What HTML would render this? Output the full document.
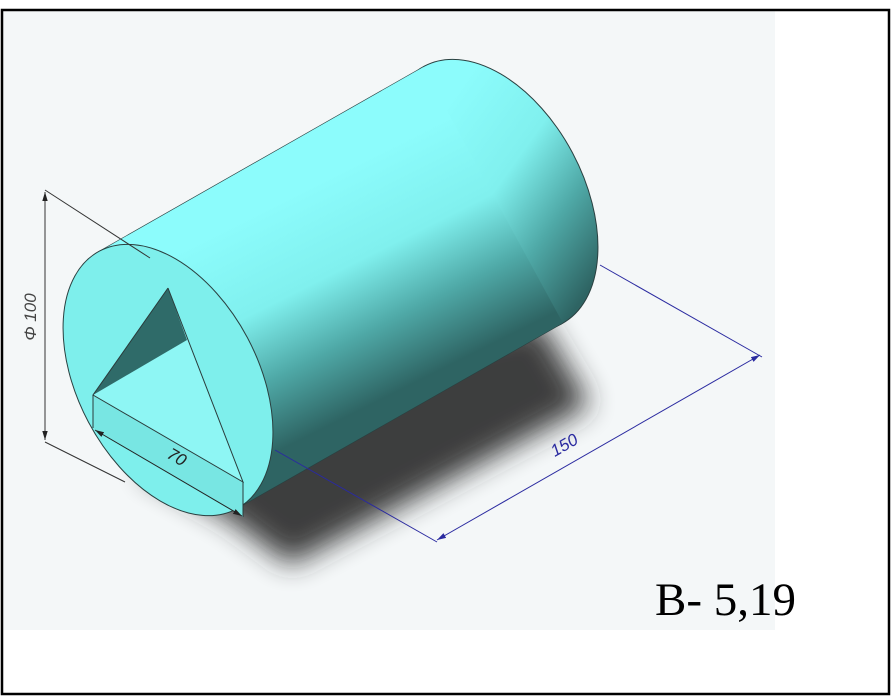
<!DOCTYPE html>
<html><head><meta charset="utf-8"><style>
html,body{margin:0;padding:0;background:#fff;width:891px;height:696px;overflow:hidden}
svg{display:block}
</style></head><body>
<svg width="891" height="696" viewBox="0 0 891 696" xmlns="http://www.w3.org/2000/svg">
<defs>
<linearGradient id="body" gradientUnits="userSpaceOnUse" x1="320" y1="180" x2="420" y2="380">
<stop offset="0" stop-color="#8cfcfc"/><stop offset="0.4" stop-color="#80f0ee"/><stop offset="0.7" stop-color="#4fa9a7"/><stop offset="1" stop-color="#2e6463"/>
</linearGradient>
<filter id="blur" x="-30%" y="-30%" width="160%" height="160%"><feGaussianBlur stdDeviation="14"/></filter>
<marker id="arK" viewBox="0 0 10 10" refX="10" refY="5" markerWidth="9" markerHeight="9" orient="auto-start-reverse"><path d="M0,2 L10,5 L0,8 z" fill="#222"/></marker>
<marker id="arB" viewBox="0 0 10 10" refX="10" refY="5" markerWidth="9" markerHeight="9" orient="auto-start-reverse"><path d="M0,2 L10,5 L0,8 z" fill="#2a2aa0"/></marker>
</defs>
<rect x="0" y="0" width="891" height="696" fill="#fff"/>
<rect x="3" y="11" width="772" height="619" fill="#f4f7f8"/>
<polygon points="140,470 230,520 290,565 590,405 540,320 350,360" fill="#2a2a2a" opacity="0.9" filter="url(#blur)"/>
<g id="cyl"></g>
<g>
<polygon points="168,288 93,395 243,482" fill="#8ef6f4"/>
<polygon points="168,288 93,395 187,340" fill="#2f6b69"/>
<polygon points="93,395 243,482 243,517 93,428" fill="#78e6e3"/>
<polyline points="168,288 93,395 243,482 168,288" fill="none" stroke="#2a3b3b" stroke-width="1"/>
<line x1="93" y1="395" x2="93" y2="428" stroke="#2a3b3b" stroke-width="1"/>
<line x1="243" y1="482" x2="243" y2="517" stroke="#2a3b3b" stroke-width="1"/>
</g>
<g stroke="#333" stroke-width="1" fill="none">
<line x1="45" y1="192" x2="45" y2="440" marker-start="url(#arK)" marker-end="url(#arK)"/>
<line x1="45" y1="190" x2="150" y2="258"/>
<line x1="45" y1="442" x2="125" y2="482"/>
</g>
<text x="0" y="0" transform="translate(36,317) rotate(-90)" text-anchor="middle" font-family="Liberation Sans, sans-serif" font-style="italic" font-size="17" fill="#444">Φ 100</text>
<g>
<line x1="95" y1="430" x2="242" y2="516" stroke="#222" stroke-width="1" marker-start="url(#arK)" marker-end="url(#arK)"/>
</g>
<text transform="translate(174,462) rotate(30)" text-anchor="middle" font-family="Liberation Sans, sans-serif" font-style="italic" font-size="17" fill="#222">70</text>
<g stroke="#2a2aa0" stroke-width="1" fill="none">
<line x1="275" y1="450" x2="437" y2="542"/>
<line x1="600" y1="265" x2="762" y2="357"/>
<line x1="437" y1="540" x2="760" y2="355" marker-start="url(#arB)" marker-end="url(#arB)"/>
</g>
<text transform="translate(567,450) rotate(-30)" text-anchor="middle" font-family="Liberation Sans, sans-serif" font-style="italic" font-size="17" fill="#2a2aa0">150</text>
<text x="655" y="615" font-family="Liberation Serif, serif" font-size="47" fill="#000">B- 5,19</text>
<rect x="2" y="10" width="887" height="684" fill="none" stroke="#000" stroke-width="2.5"/>
</svg>
<script>
const frontCenter=[168,380];
const radii=[90,146];
const tilt=-28;
const shift=[325,-185];
const g=document.getElementById('cyl');
const ns='http://www.w3.org/2000/svg';
const t=tilt*Math.PI/180;
function pt(a,c){const x=radii[0]*Math.cos(a),y=radii[1]*Math.sin(a);return [c[0]+x*Math.cos(t)-y*Math.sin(t),c[1]+x*Math.sin(t)+y*Math.cos(t)];}
let vals=[];
for(let i=0;i<720;i++){const a=i/720*2*Math.PI;const p=pt(a,[0,0]);vals.push([a,p[0]*shift[1]-p[1]*shift[0]]);}
let mx=vals[0],mn=vals[0];vals.forEach(v=>{if(v[1]>mx[1])mx=v;if(v[1]<mn[1])mn=v;});
const back=[frontCenter[0]+shift[0],frontCenter[1]+shift[1]];
const A=pt(mx[0],frontCenter),B=pt(mn[0],frontCenter);
function ell(c,fill,name){const e=document.createElementNS(ns,'ellipse');
e.setAttribute('cx',c[0]);e.setAttribute('cy',c[1]);e.setAttribute('rx',radii[0]);e.setAttribute('ry',radii[1]);
e.setAttribute('transform','rotate('+tilt+' '+c[0]+' '+c[1]+')');e.setAttribute('fill',fill);e.setAttribute('stroke','#2a4040');e.setAttribute('stroke-width','1');


g.appendChild(e);return e;}
ell(back,'url(#body)','back-face');
const poly=document.createElementNS(ns,'polygon');
poly.setAttribute('points',[A,[A[0]+shift[0],A[1]+shift[1]],[B[0]+shift[0],B[1]+shift[1]],B].map(p=>p.join(',')).join(' '));
poly.setAttribute('fill','url(#body)');


g.appendChild(poly);
[A,B].forEach(p=>{const l=document.createElementNS(ns,'line');l.setAttribute('x1',p[0]);l.setAttribute('y1',p[1]);l.setAttribute('x2',p[0]+shift[0]);l.setAttribute('y2',p[1]+shift[1]);l.setAttribute('stroke','#2a4040');l.setAttribute('stroke-width','0.6');


g.appendChild(l);});
ell(frontCenter,'#7eefec','front-face');
</script>
</body></html>
